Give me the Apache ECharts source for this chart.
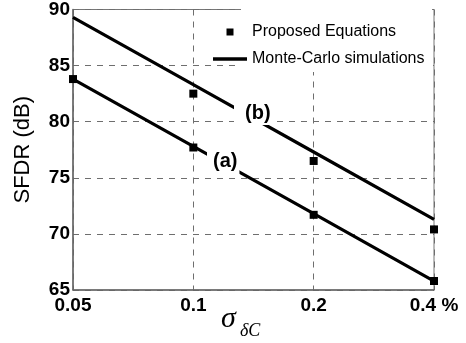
<!DOCTYPE html>
<html>
<head>
<meta charset="utf-8">
<script src="https://cdn.jsdelivr.net/npm/echarts@6/dist/echarts.min.js"></script>
<style>
  html, body { margin: 0; padding: 0; background: #fff; }
  #main { width: 466px; height: 343px; }
</style>
</head>
<body>
<div id="main"></div>
<script>
let categories = ['0.05', '0.1', '0.2', '0.4'];
let tickLabels = ['0.05', '0.1', '0.2', '0.4 %'];
// Monte-Carlo simulations
let curveA = [83.8, 77.8, 71.8, 65.8];
let curveB = [89.3, 83.3, 77.3, 71.3];
// Proposed Equations
let propX = ['0.05', '0.1', '0.1', '0.2', '0.2', '0.4', '0.4'];
let propY = [83.8, 82.5, 77.7, 76.5, 71.7, 70.4, 65.8];

let font = 'Arial, "Liberation Sans", Helvetica, sans-serif';
let gridColor = '#6e6e6e';

let option = {
  animation: false,
  backgroundColor: '#fff',
  grid: {
    left: 73, right: 32, top: 7, bottom: 53,
    show: true,
    borderColor: '#777',
    borderWidth: 1
  },
  legend: {
    orient: 'vertical',
    left: 208,
    top: 19,
    itemWidth: 34,
    itemHeight: 7,
    itemGap: 11,
    symbolKeepAspect: true,
    textStyle: { fontFamily: font, fontSize: 16, color: '#000' },
    data: [
      { name: 'Proposed Equations', icon: 'path://M0,0h10v10h-10z' },
      { name: 'Monte-Carlo simulations', icon: 'path://M0,0h34v3.4h-34z' }
    ]
  },
  xAxis: {
    type: 'category',
    data: categories,
    boundaryGap: false,
    axisLine: { lineStyle: { color: '#666', width: 1.5 } },
    axisTick: { show: false },
    axisLabel: {
      color: '#000', fontFamily: font, fontSize: 19, fontWeight: 'bold', margin: 6,
      formatter: function (v, i) { return tickLabels[i]; }
    },
    splitLine: { show: true, lineStyle: { color: gridColor, type: [6, 6] } }
  },
  yAxis: {
    type: 'value',
    min: 65, max: 90, interval: 5,
    name: 'SFDR (dB)',
    nameLocation: 'middle',
    nameGap: 39,
    nameTextStyle: { fontFamily: font, fontSize: 22, color: '#000' },
    axisLine: { show: true, lineStyle: { color: '#666', width: 1.5 } },
    axisTick: { show: false },
    axisLabel: { color: '#000', fontFamily: font, fontSize: 19, fontWeight: 'bold', margin: 3 },
    splitLine: { show: true, lineStyle: { color: gridColor, type: [6, 6] } }
  },
  graphic: [
    {
      type: 'rect', z: 3,
      shape: { x: 241, y: 9, width: 191, height: 63 },
      style: { fill: '#fff' }
    },
    {
      type: 'text', z: 100, left: 234, top: 101,
      style: {
        text: '(b)', font: 'bold 20px ' + font, fill: '#000',
        backgroundColor: '#fff', padding: [2, 1, 2, 11]
      }
    },
    {
      type: 'text', z: 100, left: 207, top: 148,
      style: {
        text: '(a)', font: 'bold 20px ' + font, fill: '#000',
        backgroundColor: '#fff', padding: [3, 2, 5, 6]
      }
    },
    {
      type: 'text', left: 221, top: 304,
      style: { text: 'σ', font: 'italic 30px "Liberation Serif", "Times New Roman", serif', fill: '#000' }
    },
    {
      type: 'text', left: 240, top: 322,
      style: { text: 'δC', font: 'italic 18px "Liberation Serif", "Times New Roman", serif', fill: '#000' }
    }
  ],
  series: [
    {
      name: 'Monte-Carlo simulations',
      type: 'line',
      data: curveA,
      symbol: 'none',
      lineStyle: { color: '#000', width: 3.2 },
      itemStyle: { color: '#000' },
      z: 5
    },
    {
      name: 'Monte-Carlo simulations',
      type: 'line',
      data: curveB,
      symbol: 'none',
      lineStyle: { color: '#000', width: 3.2 },
      itemStyle: { color: '#000' },
      z: 5
    },
    {
      name: 'Proposed Equations',
      type: 'scatter',
      symbol: 'rect',
      symbolSize: 8,
      itemStyle: { color: '#000', opacity: 1 },
      data: propX.map(function (x, i) { return [x, propY[i]]; }),
      z: 6
    }
  ]
};

let myChart = echarts.init(document.getElementById('main'));
myChart.setOption(option);
window.addEventListener('resize', function () {
  myChart.resize();
}, false);
</script>
</body>
</html>
